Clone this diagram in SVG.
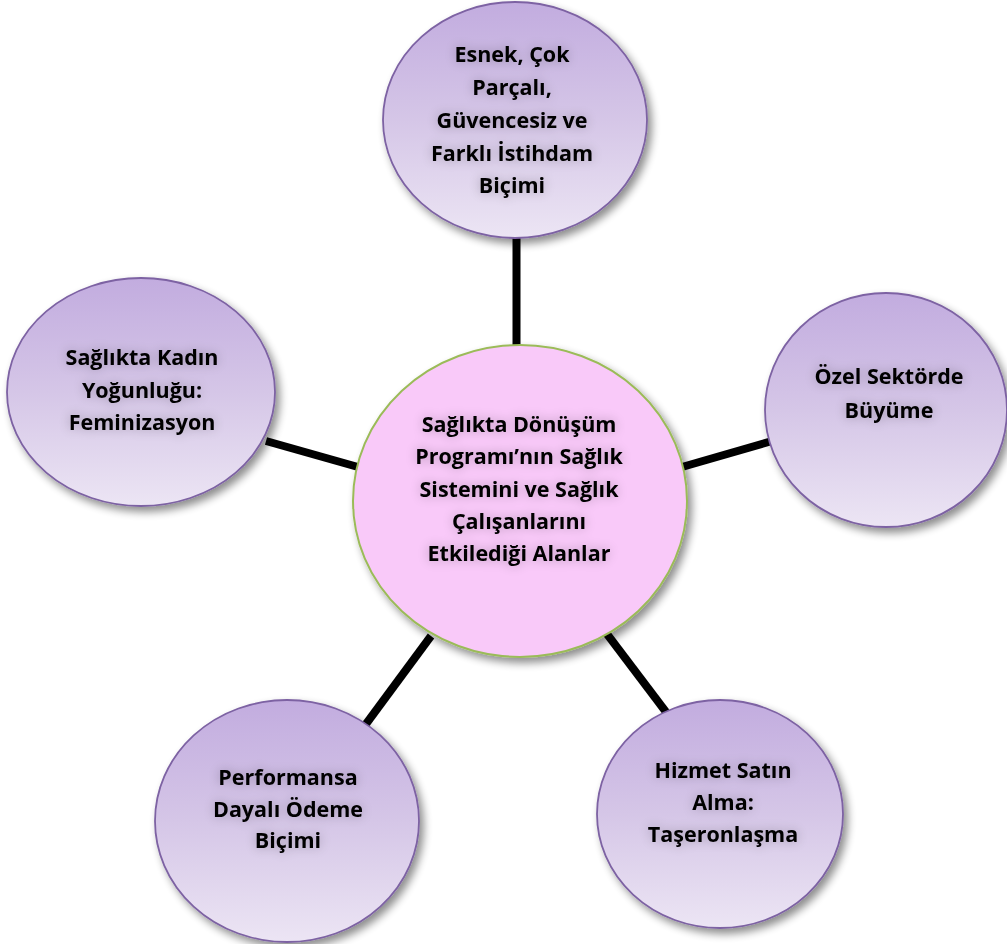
<svg xmlns="http://www.w3.org/2000/svg" width="1007" height="944" viewBox="0 0 1007 944">
  <defs>
    <linearGradient id="lilac" x1="0" y1="0" x2="0" y2="1">
      <stop offset="0" stop-color="#C2ACDF"/>
      <stop offset="0.5" stop-color="#D5C6E7"/>
      <stop offset="1" stop-color="#ECE5F4"/>
    </linearGradient>
    <filter id="shadow" x="-20%" y="-20%" width="140%" height="140%">
      <feGaussianBlur in="SourceAlpha" stdDeviation="4"/>
      <feOffset dx="4" dy="5" result="b"/>
      <feComponentTransfer in="b" result="s"><feFuncA type="linear" slope="0.45"/></feComponentTransfer>
      <feMerge><feMergeNode in="s"/><feMergeNode in="SourceGraphic"/></feMerge>
    </filter>
    <filter id="glow" x="-20%" y="-40%" width="140%" height="180%">
      <feGaussianBlur in="SourceAlpha" stdDeviation="6"/>
      <feComponentTransfer result="g"><feFuncA type="linear" slope="0.28"/></feComponentTransfer>
      <feMerge><feMergeNode in="g"/><feMergeNode in="SourceGraphic"/></feMerge>
    </filter>
  </defs>
  <style>
    .conn { stroke: #000; stroke-width: 8; fill: none; }
    .sat { fill: url(#lilac); stroke: #7D62A3; stroke-width: 1.8; filter: url(#shadow); }
    .hub { fill: #F9C9F9; stroke: #9BBB59; stroke-width: 2; filter: url(#shadow); }
    text { font-family: "Open Sans", "Liberation Sans", sans-serif; font-weight: 700; font-size: 21.5px; fill: #000; text-anchor: middle; }
    .t { filter: url(#glow); }
  </style>
  <rect width="1007" height="944" fill="#fff"/>
  <g id="connectors">
    <line class="conn" x1="516.5" y1="236" x2="516.5" y2="347"/>
    <line class="conn" x1="266" y1="441" x2="358" y2="467"/>
    <line class="conn" x1="682" y1="467" x2="772" y2="441"/>
    <line class="conn" x1="431" y1="636" x2="366" y2="724"/>
    <line class="conn" x1="607" y1="634" x2="666" y2="712"/>
  </g>
  <g id="node-center">
    <ellipse class="hub" cx="520" cy="501" rx="167" ry="156"/>
    <g class="t">
      <text x="519" y="432">Sağlıkta Dönüşüm</text>
      <text x="519" y="464">Programı’nın Sağlık</text>
      <text x="519" y="497">Sistemini ve Sağlık</text>
      <text x="519" y="529">Çalışanlarını</text>
      <text x="519" y="561">Etkilediği Alanlar</text>
    </g>
  </g>
  <g id="node-top">
    <ellipse class="sat" cx="515" cy="120" rx="132" ry="118"/>
    <g class="t">
      <text x="512" y="62">Esnek, Çok</text>
      <text x="512" y="95">Parçalı,</text>
      <text x="512" y="128">Güvencesiz ve</text>
      <text x="512" y="161">Farklı İstihdam</text>
      <text x="512" y="193">Biçimi</text>
    </g>
  </g>
  <g id="node-left">
    <ellipse class="sat" cx="141" cy="392" rx="134" ry="114"/>
    <g class="t">
      <text x="142" y="365">Sağlıkta Kadın</text>
      <text x="142" y="398">Yoğunluğu:</text>
      <text x="142" y="430">Feminizasyon</text>
    </g>
  </g>
  <g id="node-right">
    <ellipse class="sat" cx="886" cy="410" rx="121" ry="117"/>
    <g class="t">
      <text x="889" y="384">Özel Sektörde</text>
      <text x="889" y="418">Büyüme</text>
    </g>
  </g>
  <g id="node-bottom-right">
    <ellipse class="sat" cx="720" cy="814" rx="123" ry="114"/>
    <g class="t">
      <text x="723" y="778">Hizmet Satın</text>
      <text x="723" y="810">Alma:</text>
      <text x="723" y="842">Taşeronlaşma</text>
    </g>
  </g>
  <g id="node-bottom-left">
    <ellipse class="sat" cx="287" cy="821" rx="132" ry="121"/>
    <g class="t">
      <text x="288" y="785">Performansa</text>
      <text x="288" y="817">Dayalı Ödeme</text>
      <text x="288" y="848">Biçimi</text>
    </g>
  </g>
</svg>
